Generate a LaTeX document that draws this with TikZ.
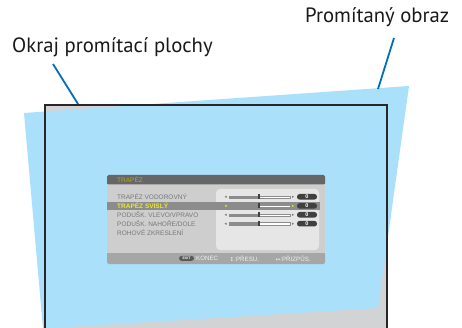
\documentclass[tikz,border=0pt]{standalone}
\usepackage{fontspec}
\setmainfont{PT Sans}
\newfontfamily\osdfont{Liberation Sans}
\newfontfamily\symfont{DejaVu Sans}
\definecolor{sky}{RGB}{170,224,250}
\definecolor{scrgray}{RGB}{209,211,212}
\definecolor{framec}{RGB}{40,38,40}
\definecolor{leaderc}{RGB}{0,110,184}
\definecolor{ttlbar}{RGB}{102,102,102}
\definecolor{ttltext}{RGB}{186,172,20}
\definecolor{osdbody}{RGB}{206,206,206}
\definecolor{osdpanel}{RGB}{230,230,230}
\definecolor{osdhl}{RGB}{140,140,140}
\definecolor{osdtext}{RGB}{120,120,120}
\definecolor{osdsel}{RGB}{236,232,40}
\definecolor{osdfoot}{RGB}{166,166,166}
\definecolor{pillc}{RGB}{64,64,64}
\tikzset{
  lbl/.style={inner sep=0pt, font=\fontsize{20.7}{20.7}\selectfont, text=black!90},
  leader/.style={draw=leaderc, line width=1.8pt},
  item/.style={inner sep=0pt, anchor=west, font=\osdfont\fontsize{6.5}{6.5}\selectfont, text=osdtext},
  selitem/.style={item, text=osdsel, font=\osdfont\bfseries\fontsize{6.5}{6.5}\selectfont},
  pill/.style={fill=pillc, rounded corners=2.6pt, minimum width=20pt, minimum height=5.6pt, inner sep=0pt, text=white, font=\osdfont\bfseries\fontsize{5.5}{5.5}\selectfont},
  foot/.style={inner sep=0pt, anchor=west, text=white!94!black, font=\osdfont\fontsize{6.2}{6.2}\selectfont},
}
\begin{document}
\begin{tikzpicture}[x=1pt,y=-1pt]
\useasboundingbox (0,0) rectangle (462,328);
\begin{scope}
\clip (0,0) rectangle (462,328);
\fill[scrgray] (45,105) rectangle (387,340);
\fill[sky] (24,113) -- (409,86) -- (378,308) -- (45,328.5) -- (44,340) -- cycle;
\draw[framec, line width=2.8pt] (45,340) -- (45,105) -- (387,105) -- (387,340);
\end{scope}
% labels
\node[lbl, anchor=base west] (edge) at (12,53) {Okraj promítací plochy};
\node[lbl, anchor=base west] (proj) at (305,23) {Promítaný obraz};
\coordinate (e1) at (53,64);
\coordinate (e2) at (78,104);
\coordinate (p1) at (394,38);
\coordinate (p2) at (378,89);
\draw[leader] (e1) -- (e2);
\draw[leader] (p1) -- (p2);
% OSD menu
\fill[osdbody] (107,184) rectangle (325,253);
\fill[ttlbar, rounded corners=1.5pt] (107,175) rectangle (325,184.3);
\fill[ttlbar] (107,180) rectangle (325,184.3);
\fill[osdfoot, rounded corners=1.5pt] (107,253) rectangle (325,264);
\fill[osdfoot] (107,253) rectangle (325,258);
\node[inner sep=0pt, anchor=west, text=ttltext, font=\osdfont\fontsize{6.5}{6.5}\selectfont] (ttl) at (117,179.6) {TRAPÉZ};
\fill[osdpanel, rounded corners=4pt] (216,189) rectangle (319,250);
\fill[osdhl] (107,201.8) rectangle (320,210);
\node[item] (r1) at (117,196.8) {TRAPÉZ VODOROVNÝ};
\node[selitem] (r2) at (117,205.9) {TRAPÉZ SVISLÝ};
\node[item] (r3) at (117,214.8) {PODUŠK. VLEVO/VPRAVO};
\node[item] (r4) at (117,223.7) {PODUŠK. NAHOŘE/DOLE};
\node[item] (r5) at (117,232.6) {ROHOVÉ ZKRESLENÍ};
\foreach \y/\c [count=\i] in {196.8/osdtext,205.9/osdsel,214.8/osdtext,223.7/osdtext}{
  \fill[\c] (224.5,\y) -- (226.5,\y-1.1) -- (226.5,\y+1.1) -- cycle;
  \fill[\c] (294,\y) -- (292,\y-1.1) -- (292,\y+1.1) -- cycle;
  \filldraw[fill=white, draw=black!45, line width=0.3pt] (229,\y-1.1) rectangle (290,\y+1.1);
  \fill[black!45] (229,\y-1.1) rectangle (259,\y+1.1);
  \fill[black!75] (258,\y-2.6) rectangle (260.4,\y+2.6);
  \node[pill] (v\i) at (307,\y) {0};
}
\node[pill, minimum width=15pt, minimum height=5pt, fill=black!65, font=\osdfont\bfseries\fontsize{3.6}{3.6}\selectfont] (exit) at (186.5,258.4) {EXIT};
\node[foot] (konec) at (exit.east) {:KONEC};
\node[foot] (presu) at (229.5,258.4) {{\symfont\fontsize{5.5}{5.5}\selectfont ↕}:PŘESU.};
\node[foot] (prizp) at (275.5,258.4) {{\symfont\fontsize{5.5}{5.5}\selectfont ↔}:PŘIZPŮS.};
\end{tikzpicture}
\end{document}
